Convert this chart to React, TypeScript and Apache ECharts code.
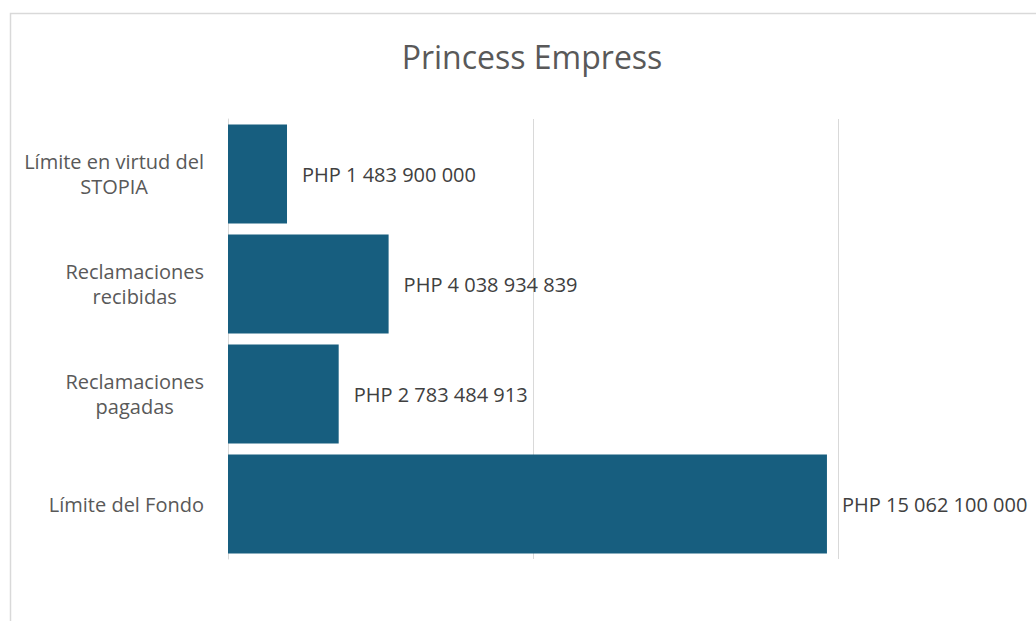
import React, { useEffect, useRef } from "react";
import * as echarts from "echarts";

const titleText = "Princess Empress";
const categories = [
  "Límite en virtud del\nSTOPIA",
  "Reclamaciones\nrecibidas",
  "Reclamaciones\npagadas",
  "Límite del Fondo",
];
const values = [1483900000, 4038934839, 2783484913, 15062100000];
const axisMax = 15340000000;
const axisInterval = 7670000000;

const fmt = (v: number) =>
  "PHP " + String(Math.round(v)).replace(/\B(?=(\d{3})+(?!\d))/g, " ");

export default function App() {
  const ref = useRef<HTMLDivElement>(null);
  useEffect(() => {
    document.body.style.margin = "0";
    const chart = echarts.init(ref.current!, null, { renderer: "svg" });
    const font = "'Open Sans', Roboto, sans-serif";
    chart.setOption({
      animation: false,
      textStyle: { fontFamily: font },
      title: {
        text: titleText,
        left: 527,
        top: 35,
        textAlign: "center",
        textStyle: { fontSize: 32, fontWeight: "normal", color: "#595959", fontFamily: font },
      },
      graphic: [
        {
          type: "rect",
          shape: { x: 10.5, y: 13.5, width: 1200, height: 800 },
          style: { fill: "none", stroke: "#d9d9d9", lineWidth: 1.5 },
          silent: true,
          z: -1,
        },
      ],
      grid: { left: 228, top: 119, width: 610, height: 440, containLabel: false },
      xAxis: {
        type: "value",
        min: 0,
        max: axisMax,
        interval: axisInterval,
        axisLabel: { show: false },
        axisLine: { show: false },
        axisTick: { show: false },
        splitLine: { show: true, lineStyle: { color: "#d9d9d9", width: 1 } },
      },
      yAxis: {
        type: "category",
        inverse: true,
        data: categories,
        axisLine: { show: true, lineStyle: { color: "#d9d9d9", width: 1 } },
        axisTick: { show: false },
        axisLabel: {
          margin: 24,
          formatter: (v: string) => v.split("\n").map((s) => "{a|" + s + "}").join("\n"),
          rich: {
            a: { fontSize: 20, color: "#595959", align: "center", lineHeight: 25, fontFamily: font },
          },
        },
      },
      series: [
        {
          type: "bar",
          data: values,
          barCategoryGap: "10%",
          itemStyle: { color: "#175E7F" },
          label: {
            show: true,
            position: "right",
            distance: 15,
            color: "#404040",
            fontSize: 20,
            fontFamily: font,
            formatter: (p: any) => fmt(p.value),
          },
        },
      ],
    });
    return () => chart.dispose();
  }, []);
  return <div ref={ref} style={{ width: 1036, height: 621 }} />;
}
